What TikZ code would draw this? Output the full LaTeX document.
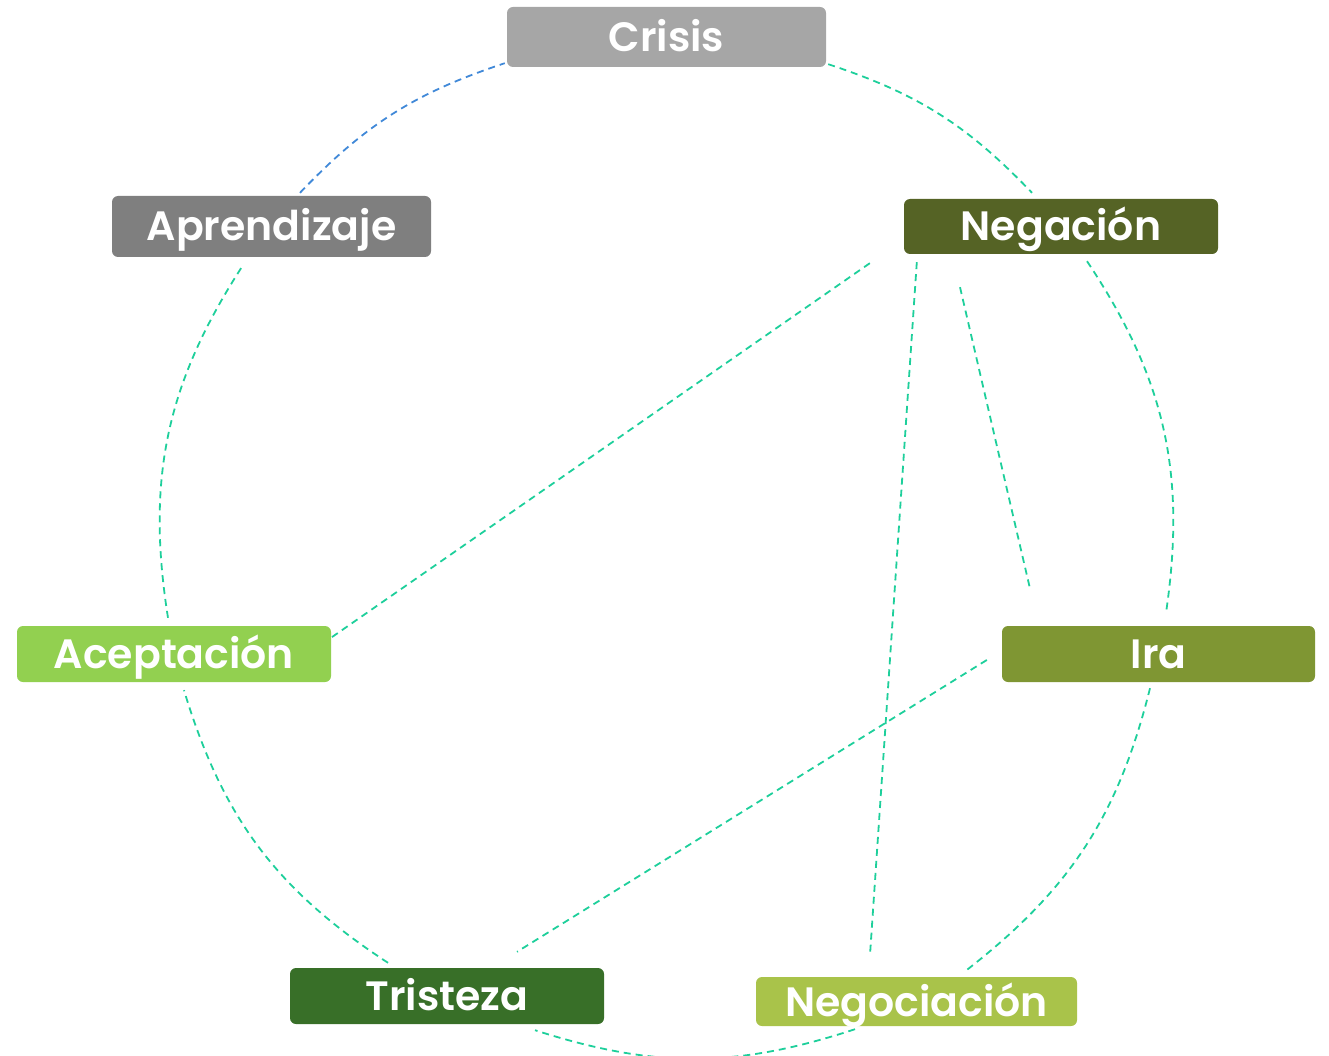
\documentclass[tikz,border=0pt]{standalone}
\usepackage{fontspec}
\setmainfont{Poppins}[BoldFont={Poppins SemiBold}]
\usepackage{xcolor}
\usepackage{tikz}
\usetikzlibrary{backgrounds}
\definecolor{lnGreen}{HTML}{1ECF9B}
\definecolor{lnBlue}{HTML}{4189D8}
\definecolor{cCrisis}{HTML}{A6A6A6}
\definecolor{cAprend}{HTML}{7F7F7F}
\definecolor{cNegac}{HTML}{556325}
\definecolor{cAcept}{HTML}{92D050}
\definecolor{cIra}{HTML}{7F9633}
\definecolor{cTrist}{HTML}{386F28}
\definecolor{cNegoc}{HTML}{A9C34A}

\tikzset{
  stage/.style={rounded corners=6pt, inner sep=0pt, text=white,
                text height=29pt, text depth=0pt,
                font=\fontsize{41}{48}\selectfont\bfseries},
  ring/.style={draw=lnGreen, line width=1.8pt, dash pattern=on 7pt off 5pt},
}

\begin{document}
\begin{tikzpicture}[x=1pt,y=1pt]
  \useasboundingbox (0,0) rectangle (1329,-1056);

  % stages
  \node[stage, fill=cCrisis, minimum width=319pt, minimum height=60pt] (crisis) at (666.5,-37) {Crisis};
  \node[stage, fill=cAprend, minimum width=319pt, minimum height=61pt] (aprendizaje) at (271.5,-226.5) {Aprendizaje};
  \node[stage, fill=cNegac, minimum width=314pt, minimum height=55pt] (negacion) at (1061,-226.5) {Negación};
  \node[stage, fill=cAcept, minimum width=314pt, minimum height=56pt] (aceptacion) at (174,-654) {Aceptación};
  \node[stage, fill=cIra, minimum width=313pt, minimum height=56pt] (ira) at (1158.5,-654) {Ira};
  \node[stage, fill=cTrist, minimum width=314pt, minimum height=56pt] (tristeza) at (447,-996) {Tristeza};
  \node[stage, fill=cNegoc, minimum width=321pt, minimum height=49pt] (negociacion) at (916.5,-1001.5) {Negociación};

  \begin{scope}[on background layer]
    % outer cycle
    \draw[ring, draw=lnBlue] ([shift={(28.5,3)}]aprendizaje.north) to[bend left=14] ([shift={(-2,4)}]crisis.south west);
    \draw[ring] ([shift={(2,3)}]crisis.south east) to[bend left=14] ([shift={(-29,6)}]negacion.north);
    \draw[ring] ([shift={(26,-7)}]negacion.south) to[bend left=21] ([shift={(7.5,13)}]ira.north);
    \draw[ring] ([shift={(-8.5,-6)}]ira.south) to[bend left=19] ([shift={(50.5,7)}]negociacion.north);
    \draw[ring] ([shift={(-61.5,-3)}]negociacion.south) to[bend left=18] ([shift={(88,-6)}]tristeza.south);
    \draw[ring] ([shift={(-59,5)}]tristeza.north) to[bend left=20] ([shift={(10,-8)}]aceptacion.south);
    \draw[ring] ([shift={(-6,8)}]aceptacion.north) to[bend left=21] ([shift={(-28.5,-8)}]aprendizaje.south);
    % chords
    \draw[ring] ([shift={(-34,-9)}]negacion.south west) -- ([shift={(-6,-16)}]aceptacion.north east);
    \draw[ring] ([shift={(13,-8)}]negacion.south west) -- ([shift={(-46.5,22)}]negociacion.north);
    \draw[ring] ([shift={(-101,-33)}]negacion.south) -- ([shift={(28,38)}]ira.north west);
    \draw[ring] ([shift={(-15,-6)}]ira.west) -- ([shift={(70,16)}]tristeza.north);
  \end{scope}
\end{tikzpicture}
\end{document}
